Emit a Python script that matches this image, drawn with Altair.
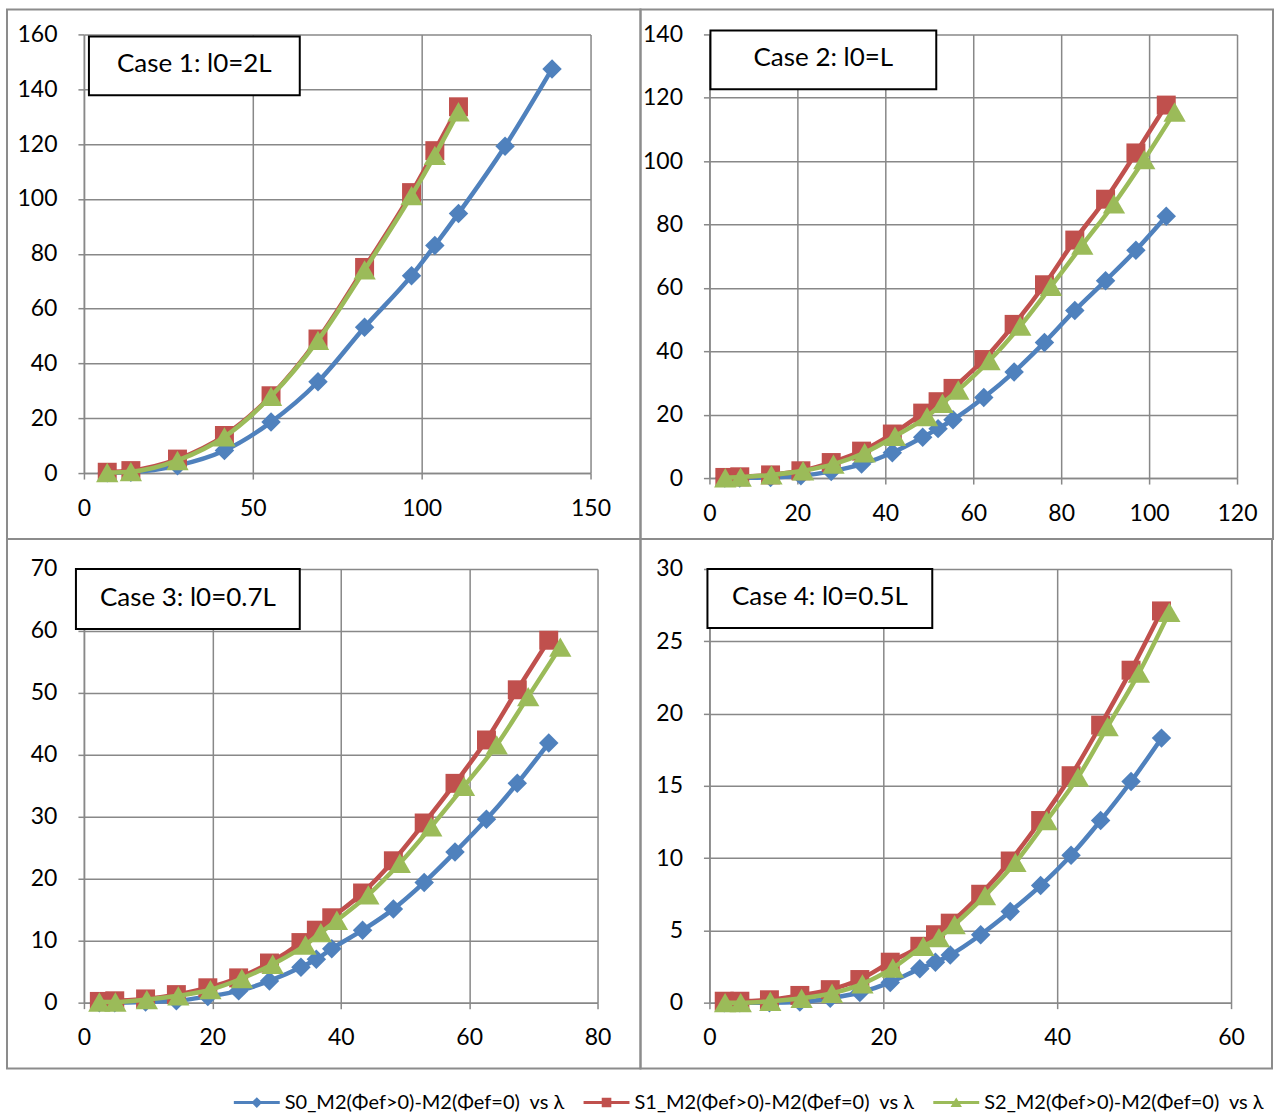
import altair as alt
import pandas as pd

SERIES = ["S0_M2(Φef>0)-M2(Φef=0)\u00a0 vs λ",
          "S1_M2(Φef>0)-M2(Φef=0)\u00a0 vs λ",
          "S2_M2(Φef>0)-M2(Φef=0)\u00a0 vs λ"]
COLORS = ["#4F81BD", "#C0504D", "#9BBB59"]
SHAPES = ["diamond", "square", "triangle-up"]
SIZES = [380, 360, 500]

# ---- Case 1: l0=2L ----
c1_title = "Case 1: l0=2L"
c1_x0 = [6.9, 13.9, 27.7, 41.6, 55.4, 69.3, 83.1, 97.0, 103.9, 110.9, 124.7, 138.6]
c1_y0 = [0.1, 0.3, 2.7, 8.2, 18.6, 33.3, 53.2, 72.0, 83.0, 94.7, 119.2, 147.4]
c1_x1 = [6.9, 13.9, 27.7, 41.6, 55.4, 69.3, 83.1, 97.0, 103.9, 110.9]
c1_y1 = [0.3, 0.9, 5.1, 13.7, 28.2, 48.9, 75.0, 102.3, 117.6, 133.6]
c1_x2 = [6.9, 13.9, 27.7, 41.6, 55.4, 69.3, 83.1, 97.0, 103.9, 110.9]
c1_y2 = [0.2, 0.5, 4.6, 13.2, 28.0, 48.4, 74.1, 101.2, 115.9, 131.8]
c1_xticks = [0, 50, 100, 150]
c1_yticks = [0, 20, 40, 60, 80, 100, 120, 140, 160]

# ---- Case 2: l0=L ----
c2_title = "Case 2: l0=L"
c2_x0 = [3.5, 6.9, 13.9, 20.8, 27.7, 34.6, 41.6, 48.5, 52.0, 55.4, 62.4, 69.3, 76.2, 83.1, 90.1, 97.0, 103.9]
c2_y0 = [0.0, 0.05, 0.2, 0.7, 2.1, 4.4, 8.0, 12.9, 15.6, 18.4, 25.4, 33.5, 42.8, 52.9, 62.3, 71.9, 82.6]
c2_x1 = [3.5, 6.9, 13.9, 20.8, 27.7, 34.6, 41.6, 48.5, 52.0, 55.4, 62.4, 69.3, 76.2, 83.1, 90.1, 97.0, 103.9]
c2_y1 = [0.2, 0.4, 1.0, 2.3, 4.9, 8.5, 13.9, 20.5, 24.1, 28.3, 37.4, 48.5, 61.0, 75.1, 88.0, 102.6, 117.7]
c2_x2 = [3.6, 7.1, 14.1, 21.3, 28.2, 35.3, 42.2, 49.5, 53.0, 56.6, 63.7, 70.7, 77.7, 84.8, 92.0, 98.9, 105.8]
c2_y2 = [0.1, 0.3, 1.0, 2.3, 4.4, 8.0, 13.2, 19.4, 23.6, 27.8, 37.1, 48.0, 60.5, 73.5, 86.5, 100.5, 115.5]
c2_xticks = [0, 20, 40, 60, 80, 100, 120]
c2_yticks = [0, 20, 40, 60, 80, 100, 120, 140]

# ---- Case 3: l0=0.7L ----
c3_title = "Case 3: l0=0.7L"
c3_x0 = [2.4, 4.8, 9.6, 14.4, 19.3, 24.1, 28.9, 33.8, 36.2, 38.6, 43.4, 48.2, 53.0, 57.8, 62.7, 67.5, 72.4]
c3_y0 = [0.0, 0.0, 0.1, 0.3, 1.0, 1.9, 3.5, 5.7, 7.0, 8.7, 11.7, 15.1, 19.4, 24.3, 29.6, 35.4, 41.9]
c3_x1 = [2.4, 4.8, 9.6, 14.4, 19.3, 24.1, 28.9, 33.8, 36.2, 38.6, 43.4, 48.2, 53.0, 57.8, 62.7, 67.5, 72.4]
c3_y1 = [0.2, 0.3, 0.6, 1.3, 2.4, 4.0, 6.4, 9.7, 11.7, 13.7, 17.7, 22.9, 29.0, 35.4, 42.4, 50.5, 58.5]
c3_x2 = [2.4, 4.9, 9.8, 14.7, 19.7, 24.6, 29.4, 34.5, 36.9, 39.4, 44.3, 49.2, 54.1, 59.2, 64.3, 69.2, 74.2]
c3_y2 = [0.1, 0.1, 0.5, 1.1, 2.1, 3.9, 6.2, 9.3, 11.3, 13.3, 17.4, 22.5, 28.4, 34.9, 41.6, 49.4, 57.4]
c3_xticks = [0, 20, 40, 60, 80]
c3_yticks = [0, 10, 20, 30, 40, 50, 60, 70]

# ---- Case 4: l0=0.5L ----
c4_title = "Case 4: l0=0.5L"
c4_x0 = [1.7, 3.5, 6.9, 10.4, 13.9, 17.3, 20.8, 24.2, 26.0, 27.7, 31.2, 34.6, 38.1, 41.6, 45.0, 48.5, 52.0]
c4_y0 = [0.0, 0.0, 0.0, 0.05, 0.3, 0.7, 1.4, 2.35, 2.8, 3.3, 4.7, 6.3, 8.1, 10.2, 12.6, 15.3, 18.3]
c4_x1 = [1.7, 3.5, 6.9, 10.4, 13.9, 17.3, 20.8, 24.2, 26.0, 27.7, 31.2, 34.6, 38.1, 41.6, 45.0, 48.5, 52.0]
c4_y1 = [0.1, 0.1, 0.2, 0.5, 0.9, 1.6, 2.8, 3.9, 4.7, 5.5, 7.5, 9.8, 12.6, 15.7, 19.2, 23.0, 27.1]
c4_x2 = [1.8, 3.6, 7.0, 10.6, 14.1, 17.6, 21.1, 24.6, 26.4, 28.2, 31.7, 35.2, 38.8, 42.4, 45.8, 49.4, 52.9]
c4_y2 = [0.0, 0.0, 0.1, 0.3, 0.65, 1.3, 2.4, 3.9, 4.5, 5.4, 7.4, 9.7, 12.6, 15.6, 19.1, 22.8, 27.0]
c4_xticks = [0, 20, 40, 60]
c4_yticks = [0, 5, 10, 15, 20, 25, 30]

CASES = [
    (c1_title, [c1_x0, c1_x1, c1_x2], [c1_y0, c1_y1, c1_y2], c1_xticks, c1_yticks),
    (c2_title, [c2_x0, c2_x1, c2_x2], [c2_y0, c2_y1, c2_y2], c2_xticks, c2_yticks),
    (c3_title, [c3_x0, c3_x1, c3_x2], [c3_y0, c3_y1, c3_y2], c3_xticks, c3_yticks),
    (c4_title, [c4_x0, c4_x1, c4_x2], [c4_y0, c4_y1, c4_y2], c4_xticks, c4_yticks),
]

# layout per panel: plot size, outer frame (relative to plot), label box, label centre
GEOM = [
    dict(w=507, h=439, frame=(-77, 557, -25, 505), box=(5, 216, 2, 61), txt=(110.5, 30)),
    dict(w=528, h=444, frame=(-69, 564, -25, 505), box=(1, 227, -4, 55), txt=(114, 24)),
    dict(w=514, h=434, frame=(-77, 557, -30, 500), box=(-8, 216, 0, 60), txt=(104, 29)),
    dict(w=522, h=434, frame=(-69, 563, -30, 500), box=(-2, 223, 0, 59), txt=(110.5, 28.5)),
]

# legend symbols: line segment + marker (custom SVG paths)
LEG_PATHS = [
    "M-3.83,-0.25L3.83,-0.25L3.83,0.25L-3.83,0.25Z M0,-0.9L0.9,0L0,0.9L-0.9,0Z",
    "M-3.83,-0.25L3.83,-0.25L3.83,0.25L-3.83,0.25Z M-0.8,-0.8L0.8,-0.8L0.8,0.8L-0.8,0.8Z",
    "M-3.83,-0.25L3.83,-0.25L3.83,0.25L-3.83,0.25Z M0,-0.85L0.95,0.75L-0.95,0.75Z",
]

GRID = "#888888"


def panel(i, with_legend=False):
    title, xs, ys, xticks, yticks = CASES[i]
    g = GEOM[i]
    rows = []
    for s in range(3):
        for xv, yv in zip(xs[s], ys[s]):
            rows.append({"lam": xv, "val": yv, "series": SERIES[s]})
    df = pd.DataFrame(rows)
    one = pd.DataFrame({"label": [title]})

    xsc = alt.Scale(domain=[xticks[0], xticks[-1]], nice=False)
    ysc = alt.Scale(domain=[yticks[0], yticks[-1]], nice=False)
    xax = alt.Axis(values=xticks, title=None, format="d")
    yax = alt.Axis(values=yticks, title=None, format="d")

    fx1, fx2, fy1, fy2 = g["frame"]
    frame = alt.Chart(one).mark_rect(fill="transparent", stroke="#8c8c8c", strokeWidth=2).encode(
        x=alt.value(fx1), x2=alt.value(fx2), y=alt.value(fy1), y2=alt.value(fy2))

    layers = [frame]
    base = alt.Chart(df)
    for s in range(3):
        sub = base.transform_filter(alt.datum.series == SERIES[s])
        line = sub.mark_line(color=COLORS[s], strokeWidth=4.5, interpolate="monotone").encode(
            x=alt.X("lam:Q", scale=xsc, axis=xax),
            y=alt.Y("val:Q", scale=ysc, axis=yax),
            order="lam:Q")
        pts = sub.mark_point(shape=SHAPES[s], filled=True, size=SIZES[s],
                             color=COLORS[s], opacity=1).encode(
            x=alt.X("lam:Q"), y=alt.Y("val:Q"))
        layers += [line, pts]

    bx1, bx2, by1, by2 = g["box"]
    box = alt.Chart(one).mark_rect(fill="white", stroke="black", strokeWidth=2).encode(
        x=alt.value(bx1), x2=alt.value(bx2), y=alt.value(by1), y2=alt.value(by2))
    tx, ty = g["txt"]
    txt = alt.Chart(one).mark_text(font="Lato", fontSize=26, color="black",
                                   align="center", baseline="middle").encode(
        x=alt.value(tx), y=alt.value(ty), text="label:N")
    layers += [box, txt]

    if with_legend:
        leg = base.transform_filter("false").mark_point(filled=True, opacity=1).encode(
            x=alt.X("lam:Q"), y=alt.Y("val:Q"),
            color=alt.Color("series:N", scale=alt.Scale(domain=SERIES, range=COLORS),
                            legend=alt.Legend(title=None)),
            shape=alt.Shape("series:N", scale=alt.Scale(domain=SERIES, range=LEG_PATHS),
                            legend=alt.Legend(title=None)))
        layers.append(leg)

    return alt.layer(*layers).properties(width=g["w"], height=g["h"])


chart = alt.concat(panel(0, True), panel(1), panel(2), panel(3),
                   columns=2, spacing=-2).properties(
    padding={"left": 6, "top": 8, "right": 2, "bottom": 2}
).configure_view(stroke=None).configure_axis(
    labelFont="Lato", labelFontSize=23, labelColor="black",
    labelFlush=False,
    tickColor=GRID, tickSize=6, tickWidth=1.5,
    domainColor=GRID, domainWidth=1.5,
    grid=True, gridColor=GRID, gridWidth=1.5,
).configure_axisX(labelPadding=18).configure_axisY(labelPadding=21).configure_legend(
    orient="none", legendX=163, legendY=1059, direction="horizontal", columns=3,
    symbolSize=144, symbolOffset=0, symbolStrokeWidth=0,
    labelFont="Lato", labelFontSize=20, labelColor="black", labelLimit=500,
    labelOffset=18, columnPadding=18, padding=0,
)

chart.save("out.html", embed_options={"renderer": "svg", "actions": False})
